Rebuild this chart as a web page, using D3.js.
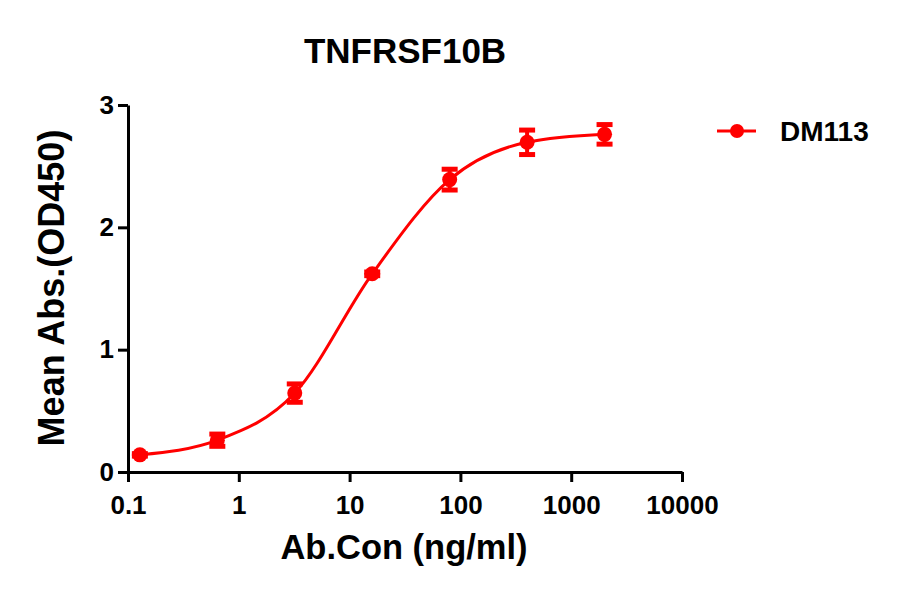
<!DOCTYPE html>
<html>
<head>
<meta charset="utf-8">
<script src="https://cdn.jsdelivr.net/npm/d3@7"></script>
<style>
	body { margin: 0; background: #fff; }
	text { font-family: "Liberation Sans", Arial, sans-serif; font-weight: bold; fill: #000; }
</style>
</head>
<body>
<svg id="chart" width="900" height="594"></svg>
<script>
// concentration (ng/ml), 5-fold dilution
let conc = [0.128, 0.64, 3.2, 16, 80, 400, 2000];
let od = [0.14, 0.26, 0.645, 1.62, 2.39, 2.695, 2.76];
let sd = [0.01, 0.05, 0.075, 0.015, 0.085, 0.1, 0.08];
let xTicks = [0.1, 1, 10, 100, 1000, 10000];
let yTicks = [0, 1, 2, 3];
let seriesName = "DM113";

function init() {
	let svg = d3.select("svg#chart");
	let red = "#ff0000";

	let x = d3.scaleLog()
		.domain([0.1, 10000])
		.range([128, 682]);
	let y = d3.scaleLinear()
		.domain([0, 3])
		.range([472, 105]);

	let data = conc.map((c, i) => ({x: c, y: od[i], e: sd[i]}));

	// axes
	let xAxis = svg.append("g")
		.attr("transform", "translate(0,472)")
		.call(d3.axisBottom(x).tickValues(xTicks).tickFormat(d3.format("~g")).tickSize(10).tickSizeOuter(0));
	let yAxis = svg.append("g")
		.attr("transform", "translate(128,0)")
		.call(d3.axisLeft(y).tickValues(yTicks).tickFormat(d3.format("d")).tickSize(10).tickSizeOuter(0));

	[xAxis, yAxis].forEach(function(g){
		g.select(".domain").attr("stroke", "#000").attr("stroke-width", 3);
		g.selectAll(".tick line").attr("stroke", "#000").attr("stroke-width", 3);
		g.selectAll(".tick text")
			.style("font-size", "26px")
			.style("font-family", "Liberation Sans, Arial, sans-serif")
			.style("font-weight", "bold")
			.attr("fill", "#000");
	});
	xAxis.selectAll(".tick text").attr("dy", "1.1em");
	yAxis.selectAll(".tick text").attr("x", -14);

	// fitted curve
	let line = d3.line()
		.x((d) => x(d.x))
		.y((d) => y(d.y))
		.curve(d3.curveMonotoneX);

	svg.append("path")
		.datum(data)
		.attr("d", line)
		.attr("fill", "none")
		.attr("stroke", red)
		.attr("stroke-width", 3);

	// error bars
	let bars = svg.selectAll("g.err")
		.data(data)
		.enter().append("g")
		.attr("class", "err");
	bars.append("line")
		.attr("x1", (d) => x(d.x)).attr("x2", (d) => x(d.x))
		.attr("y1", (d) => y(d.y - d.e)).attr("y2", (d) => y(d.y + d.e))
		.attr("stroke", red).attr("stroke-width", 4);
	bars.selectAll("line.cap")
		.data((d) => [d.y - d.e, d.y + d.e].map((v) => ({x: d.x, v: v})))
		.enter().append("line")
		.attr("class", "cap")
		.attr("x1", (d) => x(d.x) - 8).attr("x2", (d) => x(d.x) + 8)
		.attr("y1", (d) => y(d.v)).attr("y2", (d) => y(d.v))
		.attr("stroke", red).attr("stroke-width", 5);

	// points
	svg.selectAll("circle.pt")
		.data(data)
		.enter().append("circle")
		.attr("class", "pt")
		.attr("cx", (d) => x(d.x))
		.attr("cy", (d) => y(d.y))
		.attr("r", 7.5)
		.attr("fill", red);

	// titles
	svg.append("text")
		.attr("x", 405).attr("y", 63)
		.attr("text-anchor", "middle")
		.style("font-size", "35px")
		.text("TNFRSF10B");

	svg.append("text")
		.attr("x", 404).attr("y", 559)
		.attr("text-anchor", "middle")
		.style("font-size", "34.5px")
		.text("Ab.Con (ng/ml)");

	svg.append("text")
		.attr("transform", "translate(64,288) rotate(-90)")
		.attr("text-anchor", "middle")
		.style("font-size", "36px")
		.text("Mean Abs.(OD450)");

	// legend
	let legend = svg.append("g").attr("transform", "translate(717,131)");
	legend.append("line")
		.attr("x1", 0).attr("x2", 39)
		.attr("stroke", red).attr("stroke-width", 3);
	legend.append("circle")
		.attr("cx", 20).attr("r", 7)
		.attr("fill", red);
	legend.append("text")
		.attr("x", 63).attr("y", 10)
		.style("font-size", "28px")
		.text(seriesName);
}

init();
</script>
</body>
</html>
